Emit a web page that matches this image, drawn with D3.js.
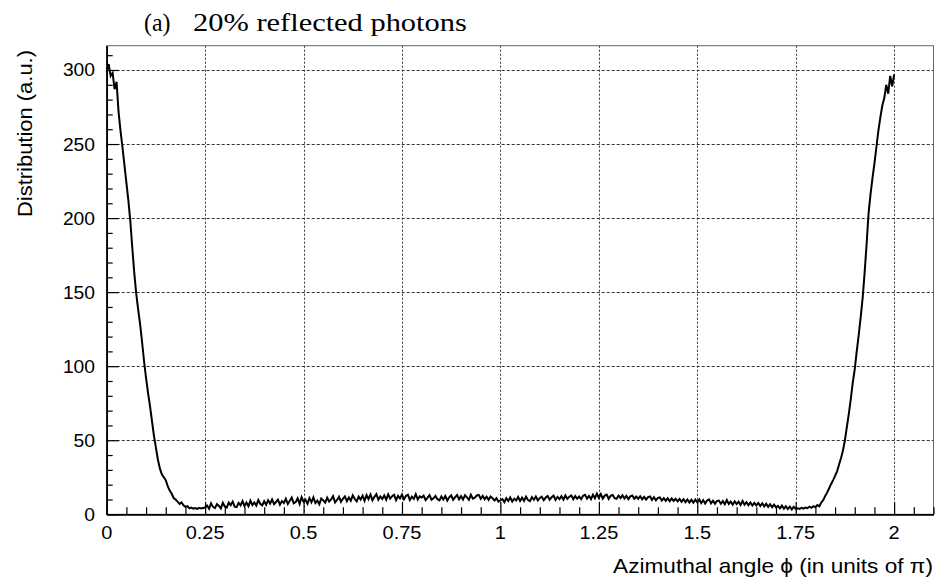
<!DOCTYPE html>
<html>
<head>
<meta charset="utf-8">
<script src="https://cdn.jsdelivr.net/npm/d3@7"></script>
<style>
  body { margin: 0; background: #fff; }
  svg text { fill: #000; }
</style>
</head>
<body>
<svg id="chart" width="940" height="578"></svg>
<script>
// Histogram of the azimuthal angle of reflected photons (bin width 0.005 pi)
const binWidth = 0.005;

// 0.000 – 0.250
const descent = [
  299, 304, 296, 298, 287, 292, 272, 259, 248, 236,
  224, 212, 198, 180, 163, 149, 138, 128, 116, 103,
  92, 82, 73, 63, 53, 45, 37, 31, 27, 25,
  23, 19, 16, 14, 11, 10, 8.5, 7, 8, 6,
  5, 5.5, 4, 4.5, 3.8, 4.2, 3.6, 4.4, 3.9, 4.3,
  4.6
];

// 0.255 – 1.750
const plateau = [
  5.9, 3.8, 7.4, 5.0, 4.2, 6.9, 5.6, 3.9, 7.8, 5.3,
  4.6, 7.9, 6.2, 8.6, 5.1, 4.8, 7.7, 6.0, 8.9, 5.5,
  7.9, 5.4, 9.2, 6.3, 8.0, 5.9, 9.6, 7.1, 6.0, 8.8,
  6.4, 9.5, 7.2, 10.0, 6.8, 8.3, 9.9, 6.5, 8.9, 7.6,
  10.4, 6.9, 9.1, 11.3, 7.4, 8.2, 10.8, 7.0, 11.6, 8.5,
  9.8, 7.2, 10.9, 8.1, 11.4, 7.6, 9.3, 6.8, 10.6, 9.4,
  7.9, 11.2, 8.6, 10.1, 12.3, 8.0, 9.7, 11.8, 8.4, 10.5,
  12.1, 8.9, 11.4, 9.2, 12.8, 10.3, 8.7, 11.9, 10.0, 12.6,
  9.1, 12.9, 10.2, 13.4, 9.5, 11.8, 13.6, 9.8, 12.0, 10.4,
  12.7, 9.9, 13.5, 10.6, 12.2, 13.1, 9.6, 12.5, 10.8, 13.3,
  10.1, 12.4, 13.2, 9.7, 11.9, 10.4, 13.6, 10.0, 12.1, 11.3,
  12.6, 9.6, 11.2, 12.9, 9.9, 10.8, 12.4, 10.2, 9.4, 12.0,
  9.9, 12.3, 9.3, 11.5, 12.8, 9.8, 11.6, 13.0, 10.1, 12.2,
  10.0, 12.9, 11.4, 9.8, 13.2, 10.6, 11.2, 12.7, 13.1, 10.5,
  12.4, 10.2, 11.9, 9.8, 12.0, 10.9, 9.3, 10.8, 8.6, 9.5,
  10.3, 8.2, 10.9, 9.0, 11.4, 8.6, 10.5, 9.3, 11.7, 9.0,
  11.2, 9.1, 11.9, 9.6, 8.9, 11.6, 9.8, 12.0, 9.4, 11.0,
  11.9, 9.5, 11.3, 12.3, 9.8, 11.5, 12.6, 9.7, 11.8, 10.3,
  12.2, 9.9, 12.7, 10.4, 11.9, 12.8, 10.2, 12.3, 10.5, 12.0,
  10.2, 12.5, 13.1, 10.6, 12.4, 10.3, 13.2, 10.9, 14.0, 11.2,
  13.7, 10.6, 12.6, 13.3, 10.4, 12.5, 13.0, 10.9, 10.5, 12.6,
  11.0, 12.8, 10.7, 12.5, 10.2, 12.1, 12.7, 10.5, 12.0, 10.4,
  12.2, 10.1, 11.8, 9.9, 11.6, 12.0, 9.7, 11.5, 9.5, 11.1,
  11.4, 9.3, 10.9, 9.1, 10.9, 8.8, 10.7, 9.0, 10.5, 8.7,
  10.4, 8.4, 10.2, 8.2, 10.0, 8.0, 9.8, 7.8, 9.9, 8.1,
  10.0, 7.6, 9.6, 7.3, 9.3, 10.1, 7.4, 9.2, 7.2, 9.0,
  9.3, 7.1, 8.9, 6.8, 9.6, 7.0, 8.6, 6.6, 8.8, 6.9,
  8.5, 6.3, 9.0, 6.5, 8.2, 6.1, 8.0, 5.9, 7.7, 6.0,
  7.6, 5.6, 7.4, 5.3, 7.1, 5.0, 6.8, 4.8, 6.5, 4.7,
  5.7, 4.0, 5.9, 3.7, 5.5, 3.5, 5.2, 3.3, 5.1, 3.6
];

// 1.755 – 2.000
const rise = [
  4.0, 3.6, 4.3, 3.8, 4.6, 4.1, 5.2, 4.4, 5.5, 4.8,
  6.2, 5.4, 7.9, 9.6, 12.4, 14.8, 17.6, 20.5, 23.1, 25.9,
  29.0, 33.5, 37.8, 43.0, 50, 59, 68, 78, 89, 98,
  110, 121, 133, 146, 163, 182, 203, 216, 227, 237,
  248, 259, 268, 276, 281, 290, 284, 296, 289, 297
];

const xMajorTicks = [0, 0.25, 0.5, 0.75, 1, 1.25, 1.5, 1.75, 2];
const xTickLabels = ["0", "0.25", "0.5", "0.75", "1", "1.25", "1.5", "1.75", "2"];
const yMajorTicks = [0, 50, 100, 150, 200, 250, 300];
const yTickLabels = ["0", "50", "100", "150", "200", "250", "300"];

const titleTag = "(a)";
const titleText = "20% reflected photons";
const xTitle = "Azimuthal angle \u03D5 (in units of \u03C0)";
const yTitle = "Distribution (a.u.)";

const counts = descent.concat(plateau, rise);
const bins = counts.map((v, i) => ({ phi: i * binWidth, value: v }));

const svg = d3.select("#chart");
const frame = { left: 106.7, right: 933.5, top: 45.7, bottom: 514.3 };

const x = d3.scaleLinear().domain([0, 2.1]).range([frame.left, frame.right]);
const y = d3.scaleLinear().domain([0, 316.4]).range([frame.bottom, frame.top]);

const xMinorTicks = d3.range(0, 2.1001, 0.05).filter(t => Math.abs(t / 0.25 - Math.round(t / 0.25)) > 1e-6);
const yMinorTicks = d3.range(0, 316, 10).filter(t => t % 50 !== 0);

// grid
const grid = svg.append("g").attr("stroke", "#333").attr("stroke-width", 1).attr("fill", "none");
grid.selectAll("line.vx").data(xMajorTicks.filter(t => t > 0)).join("line")
  .attr("x1", d => Math.round(x(d)) + 0.5).attr("x2", d => Math.round(x(d)) + 0.5)
  .attr("y1", frame.top).attr("y2", frame.bottom)
  .attr("stroke-dasharray", "2,2");
grid.selectAll("line.hy").data(yMajorTicks.filter(t => t > 0)).join("line")
  .attr("x1", frame.left).attr("x2", frame.right)
  .attr("y1", d => Math.round(y(d)) + 0.5).attr("y2", d => Math.round(y(d)) + 0.5)
  .attr("stroke-dasharray", "3,2");

// frame
svg.append("rect")
  .attr("x", frame.left).attr("y", frame.top)
  .attr("width", frame.right - frame.left).attr("height", frame.bottom - frame.top)
  .attr("fill", "none").attr("stroke", "#666").attr("stroke-width", 1);

// axes with inward ticks
function styleAxis(g) {
  g.selectAll("path.domain").attr("stroke", "#000").attr("stroke-width", 1.5);
  g.selectAll(".tick line").attr("stroke", "#000").attr("stroke-width", 1.2);
  g.selectAll(".tick text").remove();
}
svg.append("g").attr("transform", `translate(0,${frame.bottom})`)
  .call(d3.axisBottom(x).tickValues(xMinorTicks).tickSizeInner(-7).tickSizeOuter(0).tickFormat(""))
  .call(styleAxis);
svg.append("g").attr("transform", `translate(0,${frame.bottom})`)
  .call(d3.axisBottom(x).tickValues(xMajorTicks).tickSizeInner(-12).tickSizeOuter(0).tickFormat(""))
  .call(styleAxis);
svg.append("g").attr("transform", `translate(${frame.left},0)`)
  .call(d3.axisLeft(y).tickValues(yMinorTicks).tickSizeInner(-6).tickSizeOuter(0).tickFormat(""))
  .call(styleAxis);
svg.append("g").attr("transform", `translate(${frame.left},0)`)
  .call(d3.axisLeft(y).tickValues(yMajorTicks).tickSizeInner(-12).tickSizeOuter(0).tickFormat(""))
  .call(styleAxis);

// tick labels
const sansFont = "'Liberation Sans', Arial, Helvetica, sans-serif";
svg.append("g").selectAll("text").data(xMajorTicks).join("text")
  .attr("transform", d => `translate(${x(d)},538.5) scale(1.08,1)`)
  .attr("text-anchor", "middle")
  .style("font-family", sansFont).style("font-size", "18.5px")
  .text((d, i) => xTickLabels[i]);
svg.append("g").selectAll("text").data(yMajorTicks).join("text")
  .attr("transform", d => `translate(95,${y(d) + 6.5}) scale(1.1,1)`)
  .attr("text-anchor", "end")
  .style("font-family", sansFont).style("font-size", "17.5px")
  .text((d, i) => yTickLabels[i]);

// stretch a text element horizontally to a target width
function fitWidth(sel, target) {
  const w = sel.node().getComputedTextLength();
  return target / w;
}

// axis titles
const xt = svg.append("text")
  .attr("text-anchor", "end")
  .style("font-family", sansFont).style("font-size", "20px")
  .text(xTitle);
const sx = fitWidth(xt, 320);
xt.attr("transform", `translate(933,573) scale(${sx},1)`);

const yt = svg.append("text")
  .attr("text-anchor", "end")
  .style("font-family", sansFont).style("font-size", "21px")
  .text(yTitle);
const sy = fitWidth(yt, 167);
yt.attr("transform", `translate(32,50) rotate(-90) scale(${sy},1)`);

// title
const serifFont = "'Liberation Serif', 'Times New Roman', Times, serif";
const t1 = svg.append("text")
  .style("font-family", serifFont).style("font-size", "26px")
  .text(titleTag);
t1.attr("transform", `translate(144,31) scale(${fitWidth(t1, 26.5)},1)`);
const t2 = svg.append("text")
  .style("font-family", serifFont).style("font-size", "26px")
  .text(titleText);
t2.attr("transform", `translate(193,31) scale(${fitWidth(t2, 274)},1)`);

// distribution curve
const line = d3.line().x(d => x(d.phi)).y(d => y(d.value));
svg.append("path")
  .datum(bins)
  .attr("d", line)
  .attr("fill", "none")
  .attr("stroke", "#000")
  .attr("stroke-width", 2)
  .attr("stroke-linejoin", "miter");
</script>
</body>
</html>
